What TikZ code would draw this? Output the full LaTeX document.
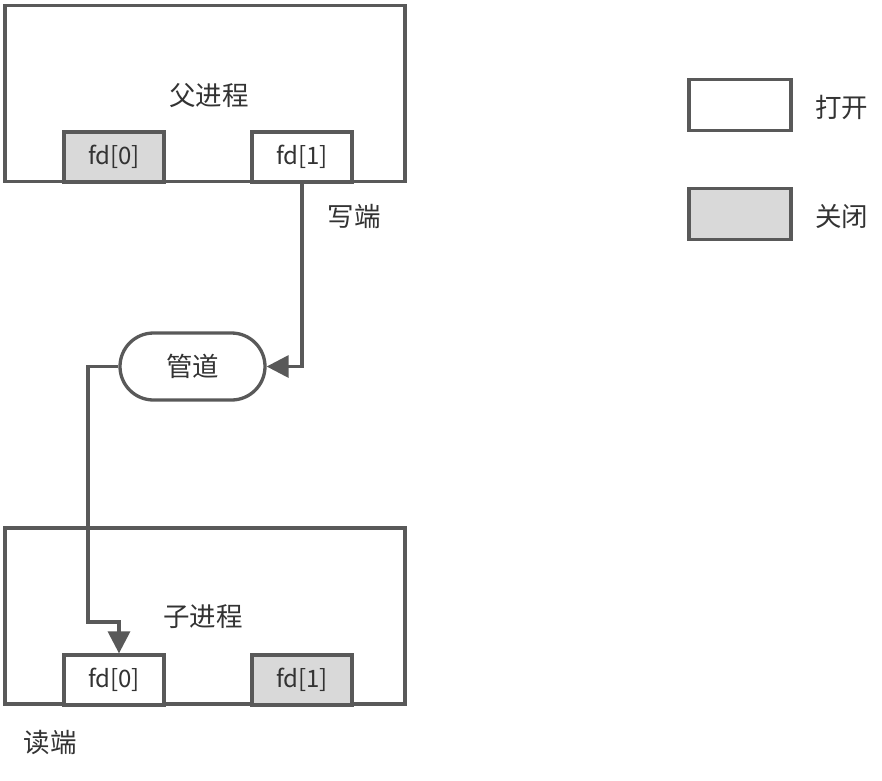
\documentclass[tikz,border=0pt]{standalone}
\usepackage{fontspec}
\setmainfont{Noto Sans CJK SC}
\usetikzlibrary{arrows.meta,shapes.misc}
\definecolor{edge}{HTML}{595959}
\definecolor{shade}{HTML}{D9D9D9}
\definecolor{ink}{HTML}{333333}
\begin{document}
\begin{tikzpicture}[x=1pt,y=-1pt,
  proc/.style={draw=edge,line width=3.3pt,fill=white,minimum width=400pt,minimum height=176pt,inner sep=0pt},
  fdopen/.style={draw=edge,line width=3.3pt,fill=white,minimum width=100pt,minimum height=50pt,inner sep=0pt,font=\fontsize{24}{27}\selectfont,text=ink},
  fdshut/.style={fdopen,fill=shade},
  lbl/.style={font=\fontsize{26.5}{29}\selectfont,text=ink,inner sep=0pt},
  conn/.style={draw=edge,line width=3.3pt,-{Triangle[length=22pt,width=22pt]}}
]
\useasboundingbox (0,0) rectangle (882,780);
% parent
\node[proc] (parent) at (205,93.5) {};
\node[lbl] (ptext) at (209,96) {父进程};
\node[fdshut] (pfd0) at (114,157) {fd[0]};
\node[fdopen] (pfd1) at (302,157) {fd[1]};
\node[lbl] (wlabel) at (354,216) {写端};
% pipe
\node[draw=edge,line width=3.3pt,rounded rectangle,minimum width=145pt,minimum height=67pt,inner sep=0pt,font=\fontsize{26.5}{29}\selectfont,text=ink] (pipe) at (192.5,366.5) {管道};
% child
\node[proc] (child) at (205,616) {};
\node[lbl] (ctext) at (203,617) {子进程};
\node[fdopen] (cfd0) at (114,680) {fd[0]};
\node[fdshut] (cfd1) at (302,680) {fd[1]};
\node[lbl] (rlabel) at (50,742) {读端};
% legend
\node[fdopen,minimum width=102pt,minimum height=51pt] (lopen) at (740,105) {};
\node[lbl,anchor=west] (topen) at (815,107) {打开};
\node[fdshut,minimum width=102pt,minimum height=51pt] (lshut) at (740,214) {};
\node[lbl,anchor=west] (tshut) at (815,216) {关闭};
% connectors
\draw[conn] (pfd1.south) |- (pipe.east);
\coordinate (bend1) at (88,366.5);
\coordinate (bend2) at (88,622);
\coordinate (bend3) at (119,622);
\draw[conn] (pipe.west) -- (bend1) -- (bend2) -- (bend3) -- (bend3 |- cfd0.north);
\end{tikzpicture}
\end{document}
